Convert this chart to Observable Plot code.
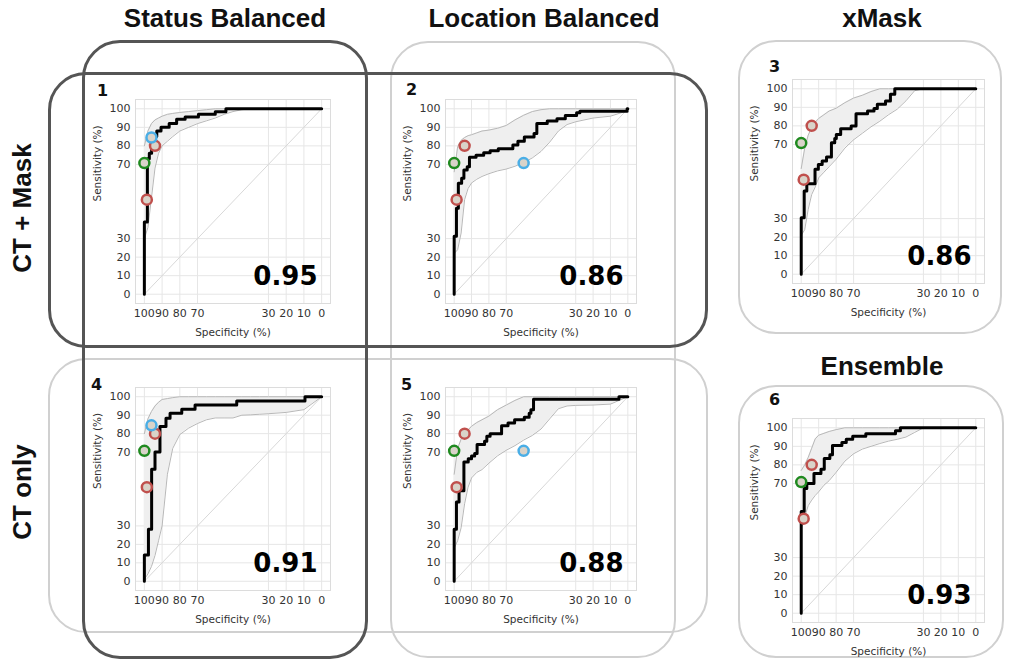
<!DOCTYPE html>
<html><head><meta charset="utf-8">
<script src="https://cdn.jsdelivr.net/npm/d3@7"></script>
<script src="https://cdn.jsdelivr.net/npm/@observablehq/plot@0.6"></script>
<style>
body{margin:0;background:#fff;}
#fig{position:relative;width:1011px;height:661px;overflow:hidden;font-family:"Liberation Sans",Arial,sans-serif;background:#fff;}
.box{position:absolute;box-sizing:border-box;border-radius:38px;}
.dark{border:3px solid #555;}
.light{border:2.5px solid #d0d0d0;}
.title{position:absolute;font-weight:bold;font-size:26px;transform:translate(-50%,-50%);white-space:nowrap;color:#111;}
.row{position:absolute;font-weight:bold;font-size:26px;transform:translate(-50%,-50%) rotate(-90deg);white-space:nowrap;color:#111;}
.num{position:absolute;font-family:"DejaVu Sans",sans-serif;font-weight:bold;font-size:16px;line-height:1;color:#111;}
.panel{position:absolute;}
</style></head>
<body><div id="fig"></div>
<script>
// ---- data ----
const colTitles = ["Status Balanced", "Location Balanced", "xMask", "Ensemble"];
const rowTitles = ["CT + Mask", "CT only"];
const panelNums = ["1", "2", "3", "4", "5", "6"];
const aucValues = [0.95, 0.86, 0.86, 0.91, 0.88, 0.93];
const xTicks = [100, 90, 80, 70, 30, 20, 10, 0];
const yTicks = [0, 10, 20, 30, 70, 80, 90, 100];
const chanceSpec = [100, 0];
const chanceSens = [0, 100];

// ROC step curves (specificity %, sensitivity %)
const p1Spec = [100, 98.3, 97.2, 95.9, 93, 90.6, 86, 81.8, 77, 69.5, 60, 54, 0];
const p1Sens = [0, 39, 73, 76, 85, 88, 90, 92, 94.3, 95.5, 97, 98.4, 100];
const p2Spec = [100, 98.7, 97.6, 95.7, 94.4, 92.5, 91.2, 87.4, 83, 79.3, 74.6, 66.2, 63.3, 59.6, 54, 52.4, 46.4, 40.8, 36, 29.5, 27.6, 0.4, 0];
const p2Sens = [0, 31.3, 46.4, 59.8, 62.5, 67, 68.8, 73.8, 75, 76.3, 77.3, 78.4, 80.4, 82.5, 84.8, 86.6, 92, 93.4, 94.6, 96.4, 97.9, 98.6, 100];
const p3Spec = [100, 98.3, 96.8, 92.1, 90.2, 88, 85.5, 82.7, 80.8, 79.9, 77.4, 71.4, 68.6, 62, 58.3, 56.4, 51.7, 48.9, 46.4, 0];
const p3Sens = [0, 30.5, 44.9, 48.8, 56.6, 59.2, 61, 63.2, 70.9, 73.2, 75.4, 78.5, 79.9, 86.5, 88, 89.4, 91.6, 93.4, 97, 100];
const p4Spec = [100, 97.7, 95.9, 94, 91.2, 87.8, 85.5, 78.9, 71.4, 47.9, 9.4, 0];
const p4Sens = [0, 14.3, 28.2, 60.7, 70, 83.9, 88.4, 91, 93.2, 95.5, 97.7, 100];
const p5Spec = [100, 98.7, 97.2, 94.4, 91.9, 90, 88.2, 86.8, 82.5, 81.2, 79.3, 72.7, 69, 65.2, 59.6, 56.8, 55.8, 54.3, 5.1, 0];
const p5Sens = [0, 28.2, 42.9, 49, 64.6, 66.4, 67.9, 69.3, 74.1, 75.9, 78.6, 80, 84.3, 85.7, 87.5, 88.9, 91, 92.9, 98.6, 100];
const p6Spec = [100, 98.3, 96.8, 92.7, 88.7, 86.8, 83.6, 82.1, 76.7, 74.2, 70.5, 63, 46, 43.2, 0];
const p6Sens = [0, 54.8, 67.3, 70, 75.4, 77.7, 83.4, 85.5, 90.5, 92, 93.75, 95.4, 96.8, 98.4, 100];

// Confidence bands of sensitivity at given specificities
const bandSpec = [100, 98, 96, 94, 92, 90, 87, 84, 80, 75, 70, 65, 60, 55, 50, 45, 40, 35, 30, 20, 10, 0];
const p1Lo = [30, 36, 52, 68, 76, 80, 82.5, 85, 88, 90, 92, 93.5, 95, 97, 98.5, 99.5, 100, 100, 100, 100, 100, 100];
const p1Hi = [80, 88, 92, 94, 95, 96, 97, 97.5, 98, 98.5, 99, 99.5, 100, 100, 100, 100, 100, 100, 100, 100, 100, 100];
const p2Lo = [22, 24, 33, 51, 57, 60, 62, 63.5, 65, 66.5, 67.5, 69, 71, 73.5, 77, 82, 88, 91.5, 93, 95, 96, 99];
const p2Hi = [66, 79.5, 83, 84.5, 85.5, 86, 87, 88, 88.5, 89.5, 91, 94, 96.5, 98.5, 99.5, 100, 100, 100, 100, 100, 100, 100];
const p3Lo = [21, 24, 35, 43, 47, 52, 55, 58, 62, 68, 72.5, 76, 79.5, 82.5, 86, 89, 93.5, 99, 100, 100, 100, 100];
const p3Hi = [57, 68, 75, 79, 82, 84, 86, 88, 89.5, 92.5, 95, 96.5, 98.5, 100, 100, 100, 100, 100, 100, 100, 100, 100];
const p4Lo = [1, 4, 8, 14, 22, 30, 58, 72, 79.5, 83, 85.5, 87.5, 88.5, 88.5, 88.5, 90, 90.2, 90.5, 90.8, 91.5, 93, 100];
const p4Hi = [80, 88, 92, 95, 97, 98.5, 99, 99.5, 100, 100, 100, 100, 100, 100, 100, 100, 100, 100, 100, 100, 100, 100];
const p5Lo = [18, 22, 29, 42, 51, 56, 59, 60.5, 64, 68, 71, 73.5, 76.5, 79, 82.5, 88, 93.5, 95, 95.3, 95.5, 96, 100];
const p5Hi = [58, 72, 77, 80, 82, 84, 86, 87.5, 89.5, 93, 95.5, 98, 100, 100, 100, 100, 100, 100, 100, 100, 100, 100];
const p6Lo = [46, 52, 58, 61, 63.5, 65.5, 69, 71.5, 76, 82, 86, 88.5, 90, 91.5, 92.8, 93.8, 95, 97.5, 100, 100, 100, 100];
const p6Hi = [77, 80, 84, 89, 94, 96, 97, 98, 99, 100, 100, 100, 100, 100, 100, 100, 100, 100, 100, 100, 100, 100];

// operating-point markers
const mkKind = ["green", "red", "red", "blue"];
const mkSpecA = [100, 94, 98.6, 96];   // panels 1, 4
const mkSensA = [70.7, 80, 51, 84.5];
const mkSpecB = [100, 94, 98.6, 60];   // panels 2, 5
const mkSensB = [70.7, 80, 51, 70.7];
const mkSpecC = [100, 94, 98.6];       // panels 3, 6
const mkSensC = [70.7, 80, 51];

// ---- layout ----
const markerColors = {green: "#1f8a1f", red: "#c0504d", blue: "#4aaee6"};
const fig = document.getElementById("fig");

function addDiv(cls, css, text) {
  const d = document.createElement("div");
  d.className = cls;
  Object.assign(d.style, css);
  if (text != null) d.textContent = text;
  fig.appendChild(d);
  return d;
}
function box(cls, l, t, r, b) {
  addDiv("box " + cls, {left: l + "px", top: t + "px", width: (r - l) + "px", height: (b - t) + "px"});
}
// light boxes first, dark boxes over them
box("light", 390, 41, 676, 658);
box("light", 48, 358, 708, 633);
box("light", 738, 40, 1002, 334);
box("light", 738, 385, 1004, 658);
box("dark", 82, 40, 368, 659);
box("dark", 48, 72, 708, 348);

addDiv("title", {left: "225px", top: "18px"}, colTitles[0]);
addDiv("title", {left: "544px", top: "18px"}, colTitles[1]);
addDiv("title", {left: "882px", top: "18px"}, colTitles[2]);
addDiv("title", {left: "882px", top: "366px"}, colTitles[3]);
addDiv("row", {left: "22px", top: "208px"}, rowTitles[0]);
addDiv("row", {left: "22px", top: "492px"}, rowTitles[1]);

const panels = [
  {frame: [135, 99, 330, 303], num: [97, 83], spec: p1Spec, sens: p1Sens, lo: p1Lo, hi: p1Hi, mkSpec: mkSpecA, mkSens: mkSensA},
  {frame: [445, 99, 636, 303], num: [406, 82], spec: p2Spec, sens: p2Sens, lo: p2Lo, hi: p2Hi, mkSpec: mkSpecB, mkSens: mkSensB},
  {frame: [792, 79, 984, 283], num: [769, 59], spec: p3Spec, sens: p3Sens, lo: p3Lo, hi: p3Hi, mkSpec: mkSpecC, mkSens: mkSensC},
  {frame: [135, 387, 330, 590], num: [91, 377], spec: p4Spec, sens: p4Sens, lo: p4Lo, hi: p4Hi, mkSpec: mkSpecA, mkSens: mkSensA},
  {frame: [445, 387, 636, 590], num: [401, 377], spec: p5Spec, sens: p5Sens, lo: p5Lo, hi: p5Hi, mkSpec: mkSpecB, mkSens: mkSensB},
  {frame: [792, 418, 984, 622], num: [769, 392], spec: p6Spec, sens: p6Sens, lo: p6Lo, hi: p6Hi, mkSpec: mkSpecC, mkSens: mkSensC}
];

const chance = chanceSpec.map((s, i) => ({spec: s, sens: chanceSens[i]}));

panels.forEach((p, k) => {
  const [x0, y0, x1, y1] = p.frame;
  const mL = 48, mR = 8, mT = 6, mB = 44;
  const roc = p.spec.map((s, i) => ({spec: s, sens: p.sens[i]}));
  const band = bandSpec.map((s, i) => ({spec: s, lo: p.lo[i], hi: p.hi[i]}));
  const markers = p.mkSpec.map((s, i) => ({spec: s, sens: p.mkSens[i], kind: mkKind[i]}));
  const dotMarks = ["green", "red", "blue"].map(kind =>
    Plot.dot(markers.filter(d => d.kind === kind), {x: "spec", y: "sens", r: 5, stroke: markerColors[kind], fill: "#d9d3c9", strokeWidth: 2.5}));
  const chart = Plot.plot({
    width: (x1 - x0) + mL + mR,
    height: (y1 - y0) + mT + mB,
    marginLeft: mL, marginRight: mR, marginTop: mT, marginBottom: mB,
    style: {fontFamily: "DejaVu Sans, sans-serif", fontSize: "11px", background: "transparent", color: "#333", overflow: "visible"},
    x: {domain: [105, -5], ticks: xTicks, tickSize: 0, tickPadding: 6, label: null},
    y: {domain: [-5, 105], ticks: yTicks, tickSize: 0, tickPadding: 5, label: null},
    marks: [
      Plot.ruleX(xTicks, {x: d => d, stroke: "#e6e6e6", strokeWidth: 1}),
      Plot.ruleY(yTicks, {y: d => d, stroke: "#e6e6e6", strokeWidth: 1}),
      Plot.frame({stroke: "#dcdcdc"}),
      Plot.areaY(band, {x: "spec", y1: "lo", y2: "hi", fill: "#efefef"}),
      Plot.line(chance, {x: "spec", y: "sens", stroke: "#d8d8d8", strokeWidth: 1}),
      Plot.line(band, {x: "spec", y: "lo", stroke: "#b8b8b8", strokeWidth: 1}),
      Plot.line(band, {x: "spec", y: "hi", stroke: "#b8b8b8", strokeWidth: 1}),
      Plot.line(roc, {x: "spec", y: "sens", curve: "step-before", stroke: "#000", strokeWidth: 3}),
      ...dotMarks,
      Plot.text([aucValues[k].toFixed(2)], {text: d => d, frameAnchor: "bottom-right", textAnchor: "end", lineAnchor: "middle", dx: -13, dy: -27, fontSize: 26, fontWeight: "bold", fill: "#000"}),
      Plot.text(["Sensitivity (%)"], {text: d => d, frameAnchor: "left", rotate: -90, dx: -38, fontSize: 10.5, fill: "#333"}),
      Plot.text(["Specificity (%)"], {text: d => d, frameAnchor: "bottom", lineAnchor: "middle", dy: 29, fontSize: 10.5, fill: "#333"})
    ]
  });
  const wrap = addDiv("panel", {left: (x0 - mL) + "px", top: (y0 - mT) + "px"});
  wrap.appendChild(chart);
  addDiv("num", {left: p.num[0] + "px", top: p.num[1] + "px"}, panelNums[k]);
});
</script>
</body></html>
